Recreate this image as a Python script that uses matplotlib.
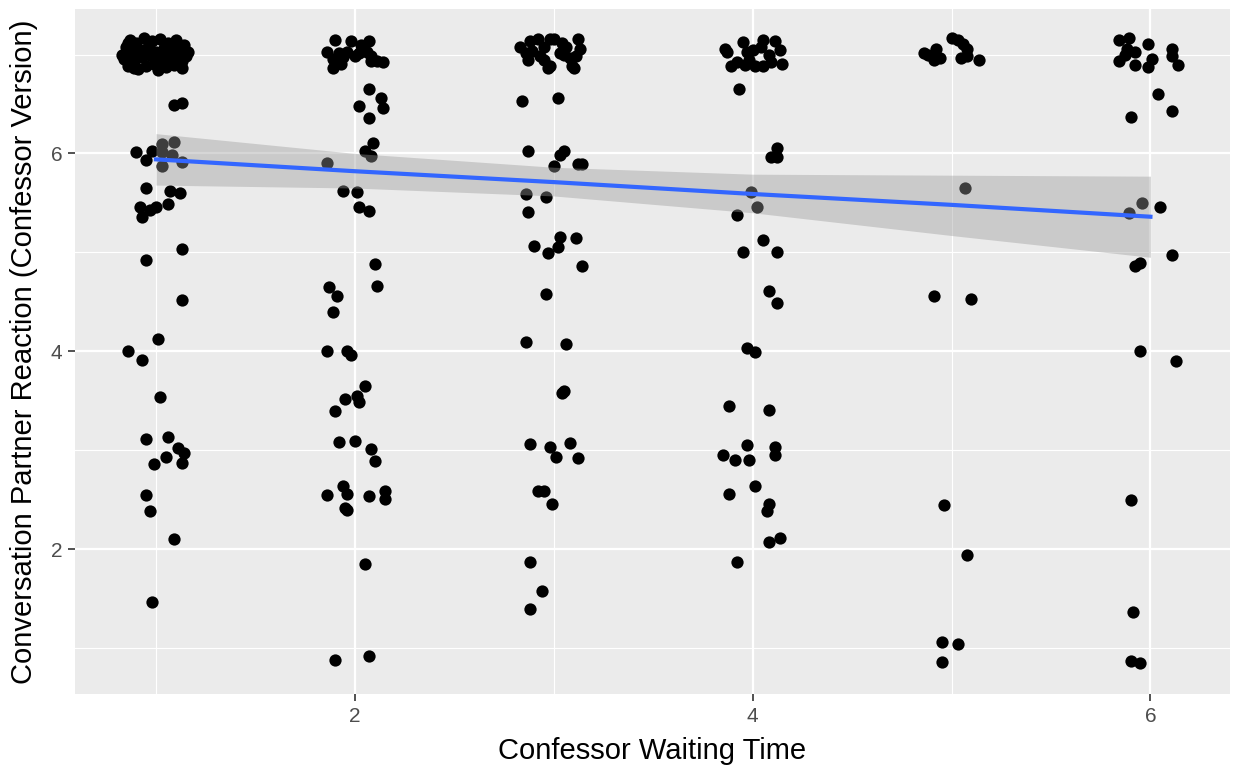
import numpy as np
import matplotlib
matplotlib.use("Agg")
import matplotlib.pyplot as plt

# jittered points, one pair of lists per waiting-time group
wait1_x = [0.83, 0.84, 0.85, 0.86, 0.87, 0.88, 0.89, 0.90, 0.91, 0.92, 0.93, 0.94, 0.95, 0.96,
           0.97, 0.98, 0.99, 1.00, 1.01, 1.02, 1.03, 1.04, 1.05, 1.06, 1.07, 1.08, 1.09, 1.10,
           1.11, 1.12, 1.13, 1.14, 1.15, 1.16, 0.86, 0.91, 0.95, 1.00, 1.04, 1.09, 0.89, 1.13,
           1.09, 1.13, 0.90, 0.95, 0.98, 1.03, 1.09, 1.03, 1.08, 1.03, 1.13, 0.95, 1.07, 1.12,
           0.92, 0.93, 0.97, 1.00, 1.06, 1.13, 0.95, 1.13, 1.01, 0.86, 0.93, 1.02, 0.95, 1.06,
           1.11, 1.14, 1.05, 0.99, 1.13, 0.95, 0.97, 1.09, 0.98]
wait1_y = [7.00, 6.95, 7.08, 6.88, 7.15, 7.02, 6.92, 7.12, 6.85, 7.05, 6.97, 7.17, 6.88, 7.08,
           6.99, 7.14, 6.90, 7.03, 6.84, 7.16, 6.94, 7.07, 6.87, 7.12, 6.97, 7.04, 6.89, 7.15,
           6.95, 7.06, 6.86, 7.10, 6.98, 7.03, 7.12, 6.98, 7.02, 6.93, 6.96, 7.09, 6.86, 6.93,
           6.49, 6.51, 6.01, 5.93, 6.02, 6.10, 6.12, 6.01, 5.98, 5.87, 5.91, 5.65, 5.62, 5.60,
           5.46, 5.36, 5.43, 5.46, 5.49, 5.03, 4.92, 4.52, 4.12, 4.00, 3.91, 3.54, 3.11, 3.13,
           3.02, 2.97, 2.93, 2.86, 2.87, 2.55, 2.38, 2.10, 1.47]

wait2_x = [1.90, 1.98, 2.07, 1.86, 1.92, 1.96, 2.02, 2.06, 2.08, 1.89, 1.94, 2.00, 2.11, 2.14,
           1.89, 1.93, 2.08, 2.03,
           2.07, 2.13, 2.02, 2.14, 2.07, 2.09, 2.05, 2.08, 1.86, 1.94, 2.01, 2.02, 2.07, 2.10,
           2.11, 1.87, 1.91, 1.89, 1.86, 1.96, 1.98, 2.05, 1.95, 2.01, 2.02, 1.90, 1.92, 2.00,
           2.08, 2.10, 1.94, 1.86, 1.96, 2.07, 2.15, 2.15, 1.95, 1.96, 2.05, 1.90, 2.07]
wait2_y = [7.15, 7.14, 7.14, 7.03, 7.02, 7.03, 7.02, 7.03, 6.98, 6.95, 6.97, 6.98, 6.93, 6.92,
           6.86, 6.90, 6.93, 7.10,
           6.65, 6.56, 6.48, 6.46, 6.36, 6.11, 6.02, 5.97, 5.90, 5.62, 5.61, 5.46, 5.42, 4.88,
           4.66, 4.65, 4.56, 4.40, 4.00, 4.00, 3.96, 3.65, 3.52, 3.55, 3.49, 3.40, 3.08, 3.09,
           3.01, 2.89, 2.64, 2.55, 2.56, 2.54, 2.59, 2.51, 2.42, 2.40, 1.85, 0.88, 0.92]

wait3_x = [2.83, 2.88, 2.92, 2.86, 2.89, 2.87, 2.93, 2.95, 2.98, 2.98, 3.00, 3.04, 3.06, 3.12,
           3.13, 3.11, 3.08, 3.05, 3.09, 3.10, 2.97, 3.03, 2.95,
           2.84, 3.02, 2.87, 3.03, 3.05, 3.00, 3.12, 3.14, 2.86, 2.96, 2.87, 3.03, 3.02, 3.11,
           2.90, 2.97, 3.14, 2.96, 2.86, 3.06, 3.04, 3.05, 2.88, 2.98, 3.08, 3.01, 3.12, 2.92,
           2.95, 2.99, 2.88, 2.94, 2.88]
wait3_y = [7.08, 7.14, 7.16, 7.02, 7.04, 6.94, 6.98, 6.94, 6.88, 7.16, 7.16, 7.12, 7.08, 7.16,
           7.06, 6.98, 6.96, 7.00, 6.88, 6.86, 6.86, 7.02, 7.08,
           6.53, 6.56, 6.02, 5.98, 6.02, 5.87, 5.89, 5.89, 5.59, 5.56, 5.41, 5.15, 5.05, 5.14,
           5.06, 4.99, 4.86, 4.58, 4.09, 4.07, 3.58, 3.60, 3.06, 3.03, 3.07, 2.93, 2.92, 2.59,
           2.59, 2.46, 1.87, 1.58, 1.39]

wait4_x = [3.86, 3.87, 3.95, 3.97, 4.00, 4.05, 4.11, 4.14, 4.08, 4.04, 3.89, 3.92, 3.96, 4.01,
           4.05, 4.09, 4.15, 3.98,
           3.93, 4.12, 4.09, 4.12, 3.99, 4.02, 3.92, 4.05, 3.95, 4.12, 4.08, 4.12, 3.97, 4.01,
           3.88, 4.08, 3.97, 4.11, 4.11, 3.85, 3.91, 3.98, 4.01, 3.88, 4.08, 4.07, 4.14, 4.08,
           3.92]
wait4_y = [7.06, 7.03, 7.13, 7.03, 7.05, 7.15, 7.14, 7.05, 7.00, 7.08, 6.88, 6.92, 6.89, 6.88,
           6.88, 6.92, 6.90, 6.94,
           6.65, 6.05, 5.96, 5.96, 5.61, 5.46, 5.38, 5.12, 5.00, 5.00, 4.61, 4.49, 4.03, 3.99,
           3.45, 3.41, 3.05, 3.03, 2.95, 2.95, 2.90, 2.90, 2.64, 2.56, 2.46, 2.39, 2.11, 2.07,
           1.87]

wait5_x = [4.86, 4.91, 4.94, 4.92, 4.88, 5.00, 5.03, 5.06, 5.08, 5.05, 5.08, 5.14,
           5.07, 4.91, 5.10, 4.96, 5.08, 4.95, 5.03, 4.95]
wait5_y = [7.02, 6.94, 6.96, 7.06, 7.00, 7.17, 7.15, 7.11, 7.06, 6.96, 6.98, 6.94,
           5.65, 4.56, 4.53, 2.45, 1.94, 1.06, 1.04, 0.86]

wait6_x = [5.84, 5.89, 5.88, 5.92, 5.84, 5.92, 5.99, 6.01, 5.99, 6.11, 6.11, 6.14, 5.87,
           6.04, 6.11, 5.90, 5.96, 5.89, 6.05, 5.92, 5.95, 6.11, 5.95, 6.13, 5.90, 5.91,
           5.90, 5.95]
wait6_y = [7.15, 7.17, 7.06, 7.03, 6.93, 6.89, 7.11, 6.95, 6.87, 7.06, 6.98, 6.89, 6.99,
           6.60, 6.43, 6.37, 5.50, 5.40, 5.46, 4.86, 4.89, 4.97, 4.00, 3.90, 2.50, 1.36,
           0.87, 0.85]

# lm smoother and its 95% band at each waiting time
smooth_x = [1, 2, 3, 4, 5, 6]
smooth_fit = [5.94, 5.82, 5.71, 5.59, 5.48, 5.36]
smooth_lo = [5.68, 5.65, 5.57, 5.40, 5.17, 4.95]
smooth_hi = [6.20, 6.00, 5.86, 5.79, 5.78, 5.77]

xs = [wait1_x, wait2_x, wait3_x, wait4_x, wait5_x, wait6_x]
ys = [wait1_y, wait2_y, wait3_y, wait4_y, wait5_y, wait6_y]
x_all = np.concatenate([np.array(v) for v in xs])
y_all = np.concatenate([np.array(v) for v in ys])

plt.rcParams['font.family'] = ['Liberation Sans', 'DejaVu Sans']

fig = plt.figure(figsize=(12.35, 7.66), dpi=100)
ax = fig.add_axes([75 / 1235, 1 - 694 / 766, 1155 / 1235, 685 / 766])
ax.set_facecolor('#EBEBEB')

ax.scatter(x_all, y_all, s=78, color='black', linewidths=0, zorder=3)
ax.fill_between(smooth_x, smooth_lo, smooth_hi, color='#999999', alpha=0.4, linewidth=0, zorder=4)
ax.plot(smooth_x, smooth_fit, color='#3366FF', linewidth=3, zorder=5)

ax.set_xlim(0.593, 6.40)
ax.set_ylim(0.535, 7.46)
ax.set_xticks([2, 4, 6])
ax.set_yticks([2, 4, 6])
ax.set_xticks([1, 3, 5], minor=True)
ax.set_yticks([1, 3, 5, 7], minor=True)
ax.grid(which='major', color='white', linewidth=1.6, zorder=0)
ax.grid(which='minor', color='white', linewidth=0.8, zorder=0)
ax.set_axisbelow(True)
for sp in ax.spines.values():
    sp.set_visible(False)
ax.tick_params(which='major', length=5, width=1.2, color='#333333', labelcolor='#4D4D4D',
               labelsize=15, pad=4)
ax.tick_params(which='minor', length=0)

ax.set_xlabel('Confessor Waiting Time', fontsize=21, labelpad=8)
ax.set_ylabel('Conversation Partner Reaction (Confessor Version)', fontsize=21, labelpad=9)

fig.savefig('out.png', dpi=100)
